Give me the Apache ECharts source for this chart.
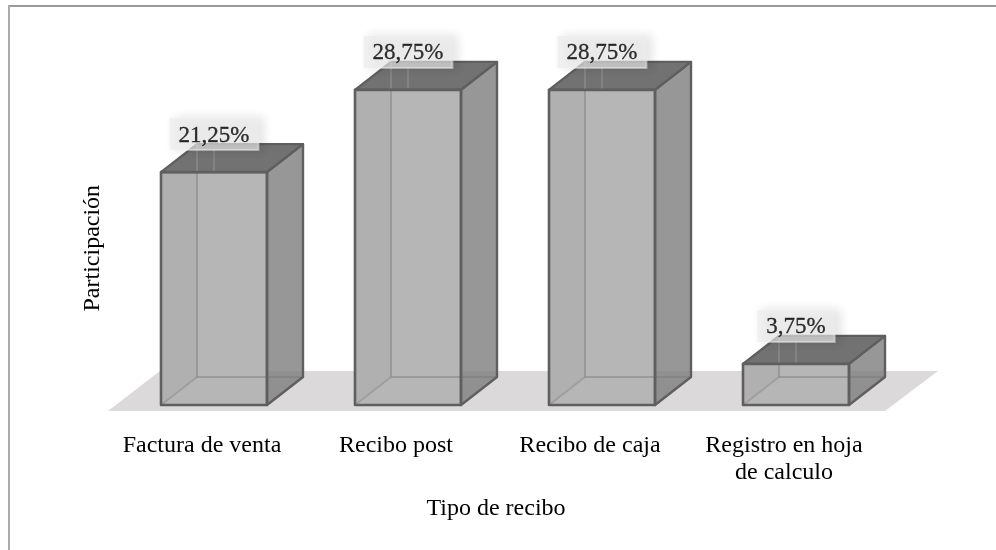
<!DOCTYPE html>
<html><head><meta charset="utf-8">
<style>html,body{margin:0;padding:0;background:#fff}#c{width:996px;height:550px;box-sizing:border-box}</style>
<script src="https://cdn.jsdelivr.net/npm/echarts@6/dist/echarts.min.js"></script>
</head><body><div id="c"></div>
<script>
const categories = ['Factura de venta', 'Recibo post', 'Recibo de caja', 'Registro en hoja\nde calculo'];
const values = [21.25, 28.75, 28.75, 3.75];
const xTitle = 'Tipo de recibo';
const yTitle = 'Participación';
const FONT = '"Liberation Serif","Times New Roman",serif';
const DX = 36, DY = 28, HALF = 53;

const chart = echarts.init(document.getElementById('c'), null, {renderer: 'canvas'});

function poly(points, fill, stroke, lw) {
  return {type: 'polygon', shape: {points},
    style: {fill, stroke: stroke || 'none', lineWidth: lw || 0, lineJoin: 'round'}};
}
function line(a, b, stroke, lw) {
  return {type: 'line', shape: {x1: a[0], y1: a[1], x2: b[0], y2: b[1]},
    style: {stroke, lineWidth: lw, lineCap: 'round'}};
}
function renderFloor(params, api) {
  const first = api.coord([0, 0]), last = api.coord([categories.length - 1, 0]);
  const yB = first[1] + 6, yT = first[1] - 34;
  return poly([[first[0] - 106, yB], [first[0] - 54, yT], [last[0] + 142, yT], [last[0] + 89, yB]], '#dbd9da');
}
function renderBar(params, api) {
  const base = api.coord([api.value(0), 0]);
  const top = api.coord([api.value(0), api.value(1)]);
  const l = base[0] - HALF, r = base[0] + HALF, b = base[1], t = top[1];
  const edge = '#5f5f5f', inner = 'rgba(140,140,140,0.65)';
  return {type: 'group', children: [
    poly([[l, b], [r, b], [r, t], [l, t]], '#b6b6b6'),
    poly([[l, b], [l + DX, b - DY], [l + DX, t], [l, t]], 'rgba(150,150,150,0.15)'),
    line([l + DX, b - DY], [r + DX, b - DY], inner, 2),
    line([l + DX, b - DY], [l + DX, t - DY], inner, 2),
    line([l, b], [l + DX, b - DY], 'rgba(150,150,150,0.7)', 2),
    poly([[r, b], [r + DX, b - DY], [r + DX, t - DY], [r, t]], 'rgba(125,125,125,0.8)', edge, 2.4),
    poly([[l, t], [r, t], [r + DX, t - DY], [l + DX, t - DY]], 'rgba(95,95,95,0.88)', edge, 2.4),
    line([l + DX, t], [l + DX, t - DY], 'rgba(160,160,160,0.5)', 2),
    line([base[0], t], [base[0], t - 22], 'rgba(160,160,160,0.5)', 1.5),
    {type: 'polygon', shape: {points: [[l, b], [r, b], [r, t], [l, t]]},
     style: {fill: 'none', stroke: edge, lineWidth: 2.6, lineJoin: 'round'}}
  ]};
}

chart.setOption({
  animation: false,
  backgroundColor: '#fff',
  grid: {left: 117, width: 776, top: 21.4, height: 383.6},
  xAxis: {
    type: 'category', data: categories,
    name: xTitle, nameLocation: 'middle', nameGap: 92,
    nameTextStyle: {fontFamily: FONT, fontSize: 24, color: '#000', padding: [0, 18, 0, 0]},
    axisLine: {show: false}, axisTick: {show: false},
    axisLabel: {fontFamily: FONT, fontSize: 24, color: '#000', margin: 27, lineHeight: 27, interval: 0, padding: [0, 24, 0, 0]}
  },
  yAxis: {
    type: 'value', min: 0, max: 35,
    name: yTitle, nameLocation: 'middle', nameGap: 12, nameRotate: 90,
    nameTextStyle: {fontFamily: FONT, fontSize: 24, color: '#000', padding: [0, 70, 0, 0]},
    axisLine: {show: false}, axisTick: {show: false},
    axisLabel: {show: false}, splitLine: {show: false}
  },
  series: [
    {type: 'custom', z: 1, silent: true, renderItem: renderFloor, data: [[0, 0]], encode: {x: 0, y: 1}, clip: false},
    {type: 'custom', z: 2, silent: true, renderItem: renderBar, clip: false,
     data: values.map((v, i) => [i, v]), encode: {x: 0, y: 1}},
    {type: 'scatter', z: 5, silent: true, symbolSize: 0,
     data: values.map((v, i) => [i, v]),
     label: {
       show: true, position: 'top', distance: 22, offset: [0, 0],
       formatter: p => p.value[1].toFixed(2).replace('.', ',') + '%',
       fontFamily: FONT, fontSize: 23, color: '#000', textBorderColor: '#000', textBorderWidth: 0.3,
       backgroundColor: 'rgba(236,236,236,0.82)', borderColor: 'rgba(255,255,255,0.6)', borderWidth: 1,
       padding: [6, 9, 3, 9], shadowColor: 'rgba(0,0,0,0.16)', shadowBlur: 10, shadowOffsetX: 5
     }}
  ],
  graphic: [
    {type: 'line', silent: true, shape: {x1: 8, y1: 6, x2: 996, y2: 6}, style: {stroke: '#9a9a9a', lineWidth: 2}},
    {type: 'line', silent: true, shape: {x1: 9, y1: 5, x2: 9, y2: 550}, style: {stroke: '#aaaaaa', lineWidth: 2}}
  ]
});
</script></body></html>
